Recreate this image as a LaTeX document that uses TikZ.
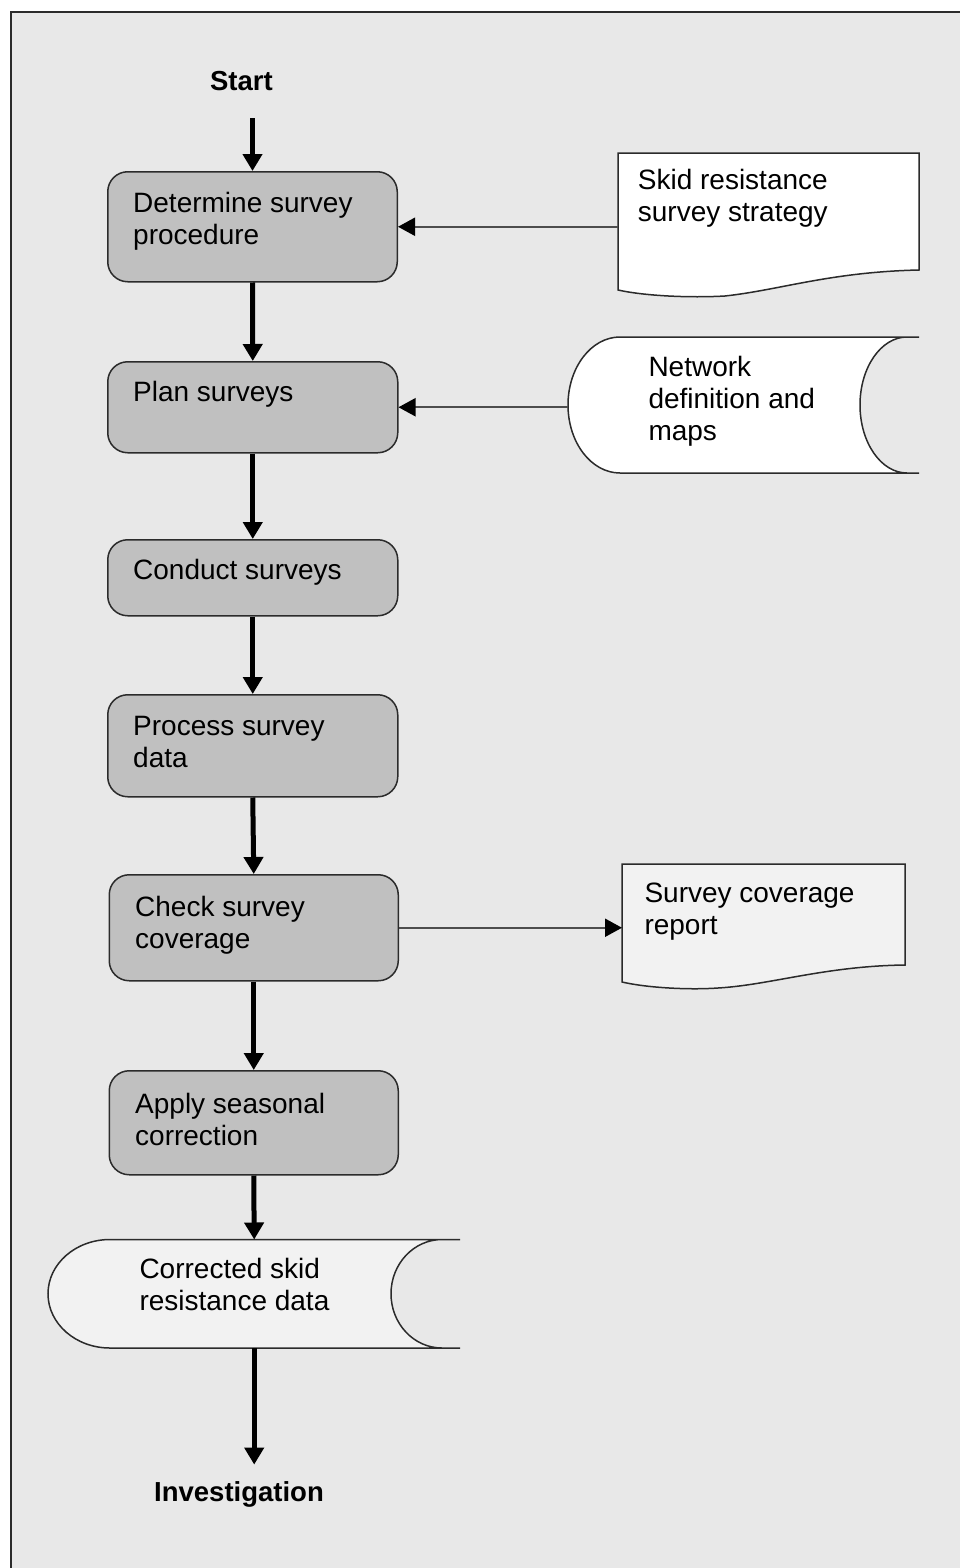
\documentclass[tikz,border=0pt]{standalone}
\usepackage{fontspec}
\setmainfont{Liberation Sans}
\usetikzlibrary{arrows.meta}
\definecolor{bgtex}{HTML}{E8E8E8}
\definecolor{boxfill}{HTML}{C0C0C0}
\definecolor{palefill}{HTML}{F2F2F2}
\definecolor{edgec}{HTML}{2B2B2B}
\definecolor{connc}{HTML}{4D4D4D}
\begin{document}
\begin{tikzpicture}[x=1pt,y=-1pt,
  procbox/.style={draw=edgec, line width=1.5pt, fill=boxfill, rounded corners=20pt, inner sep=0pt, anchor=north west},
  txt/.style={anchor=north west, inner sep=0pt, align=left, font=\fontsize{28}{32}\selectfont},
  termtxt/.style={inner sep=0pt, anchor=base, font=\fontsize{27.5}{30}\selectfont\bfseries},
  anchorbox/.style={draw=none, inner sep=0pt, anchor=north west},
  outline/.style={draw=edgec, line width=1.5pt},
  mainarrow/.style={line width=5pt, -{Triangle[length=17pt,width=19pt]}},
  sidearrow/.style={draw=connc, line width=2pt, -{Triangle[length=17pt,width=18pt,color=black]}}
]
\useasboundingbox (0,0) rectangle (959,1568);
\fill[white] (0,0) rectangle (959,1568);
\filldraw[fill=bgtex, draw=edgec, line width=2pt] (11,12) rectangle (975,1590);

% side shapes
\filldraw[outline, fill=white] (618,153) -- (919,153) -- (919,270)
  .. controls (830,272) and (780,290) .. (725,296)
  .. controls (690,298) and (645,296) .. (618,290) -- cycle;
\node[anchorbox, minimum width=301pt, minimum height=137pt] (skid) at (618,153) {};

\filldraw[outline, fill=white] (620,337)
  arc[start angle=90, end angle=270, x radius=52pt, y radius=68pt]
  -- (919,473) -- (907,473)
  arc[start angle=270, end angle=90, x radius=47pt, y radius=68pt]
  -- (919,337) -- cycle;
\node[anchorbox, minimum width=351pt, minimum height=136pt] (net) at (568,337) {};

\filldraw[outline, fill=palefill] (622,864) -- (905,864) -- (905,965)
  .. controls (825,966) and (770,985) .. (718,988)
  .. controls (690,990) and (648,988) .. (622,982) -- cycle;
\node[anchorbox, minimum width=283pt, minimum height=118pt] (cov) at (622,864) {};

\filldraw[outline, fill=palefill] (110,1239.5)
  arc[start angle=90, end angle=270, x radius=62pt, y radius=54.25pt]
  -- (460,1348) -- (442,1348)
  arc[start angle=270, end angle=90, x radius=51pt, y radius=54.25pt]
  -- (460,1239.5) -- cycle;
\node[anchorbox, minimum width=412pt, minimum height=108.5pt] (corr) at (48,1239.5) {};

% process boxes
\node[procbox, minimum width=289.5pt, minimum height=110pt] (b1) at (107,171) {};
\node[procbox, minimum width=290pt, minimum height=91pt] (b2) at (107,361) {};
\node[procbox, minimum width=290pt, minimum height=76pt] (b3) at (107,539) {};
\node[procbox, minimum width=290pt, minimum height=102pt] (b4) at (107,694) {};
\node[procbox, minimum width=289pt, minimum height=106pt] (b5) at (108.5,874) {};
\node[procbox, minimum width=289pt, minimum height=104pt] (b6) at (108.5,1070) {};

% texts
\node[txt] (t1) at (133,192.5) {Determine survey\\procedure};
\node[txt] (t2) at (133,380.7) {Plan surveys};
\node[txt] (t3) at (133,559.3) {Conduct surveys};
\node[txt] (t4) at (133,716) {Process survey\\data};
\node[txt] (t5) at (135,896) {Check survey\\coverage};
\node[txt] (t6) at (135,1093.3) {Apply seasonal\\correction};
\node[txt] (corrt) at (139.3,1258.3) {Corrected skid\\resistance data};
\node[txt] (skidt) at (637.7,169.3) {Skid resistance\\survey strategy};
\node[txt] (nett) at (648.3,356) {Network\\definition and\\maps};
\node[txt] (covt) at (644.3,882.3) {Survey coverage\\report};

\node[termtxt] (start) at (241.4,91) {Start};
\node[termtxt] (inv) at (239,1501.7) {Investigation};

% main flow
\draw[mainarrow, shorten <=27pt] (start.south -| b1.north) -- (b1.north);
\draw[mainarrow] (b1.south) -- (b2.north);
\draw[mainarrow] (b2.south) -- (b3.north);
\draw[mainarrow] (b3.south) -- (b4.north);
\draw[mainarrow] (b4.south) -- (b5.north);
\draw[mainarrow] (b5.south) -- (b6.north);
\draw[mainarrow] (b6.south) -- (corr.north);
\draw[mainarrow, shorten >=17pt] (corr.south) -- (inv.north -| corr.south);

% side connectors
\draw[sidearrow] (skid.west |- b1.east) -- (b1.east);
\draw[sidearrow] (net.west |- b2.east) -- (b2.east);
\draw[sidearrow] (b5.east) -- (cov.west |- b5.east);
\end{tikzpicture}
\end{document}
